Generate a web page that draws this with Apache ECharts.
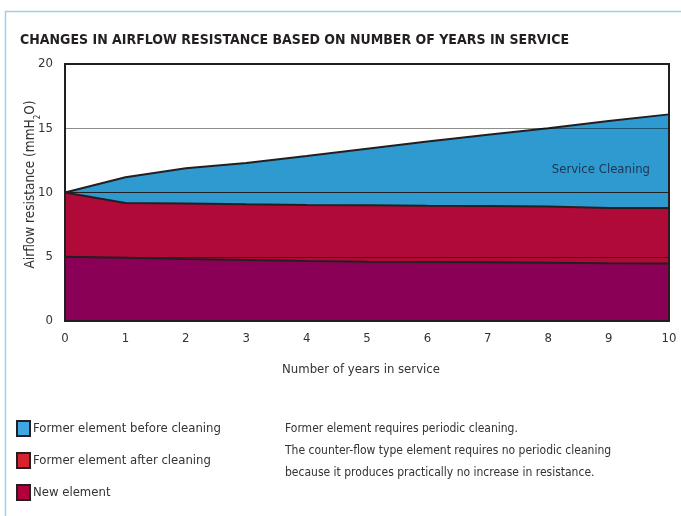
<!DOCTYPE html>
<html>
<head>
<meta charset="utf-8">
<script src="https://cdn.jsdelivr.net/npm/echarts@6/dist/echarts.min.js"></script>
<style>
  html, body { margin: 0; padding: 0; background: #fff; }
  #chart { width: 681px; height: 516px; }
</style>
</head>
<body>
<div id="chart"></div>
<script>
// Years in service (x axis) and resistance values in mmH2O
const years = [0, 1, 2, 3, 4, 5, 6, 7, 8, 9, 10];
const beforeCleaning = [10, 11.18, 11.88, 12.3, 12.84, 13.4, 13.96, 14.5, 15.0, 15.56, 16.08];
const afterCleaning = [10, 9.18, 9.15, 9.08, 9.03, 9.0, 8.97, 8.95, 8.92, 8.8, 8.8];
const newElement = [5.0, 4.92, 4.82, 4.74, 4.66, 4.62, 4.6, 4.57, 4.54, 4.5, 4.48];
const yTicks = [0, 5, 10, 15, 20];
const refLines = [15, 10, 5];

const seriesNames = ['Former element before cleaning', 'Former element after cleaning', 'New element'];
const FONT = '"Liberation Sans Narrow", "DejaVu Sans Condensed", sans-serif';
const TEXT = '#333333';
const EDGE = '#231f20';

const toPairs = arr => arr.map((v, i) => [years[i], v]);

const chart = echarts.init(document.getElementById('chart'), null, { renderer: 'canvas' });

chart.setOption({
  animation: false,
  backgroundColor: '#ffffff',
  textStyle: { fontFamily: FONT },
  title: {
    text: 'CHANGES IN AIRFLOW RESISTANCE BASED ON NUMBER OF YEARS IN SERVICE',
    left: 15, top: 28,
    textStyle: { fontFamily: FONT, fontWeight: 'bold', fontSize: 14, color: '#231f20' }
  },
  grid: {
    left: 65, right: 12, top: 64, bottom: 195,
    show: true, z: 10, backgroundColor: 'transparent',
    borderColor: EDGE, borderWidth: 2
  },
  legend: {
    orient: 'vertical', left: 16, top: 420, padding: 0,
    itemWidth: 13, itemHeight: 15, itemGap: 15,
    icon: 'rect',
    textStyle: { fontFamily: FONT, fontSize: 13, color: TEXT, padding: [0, 0, 0, -2] },
    data: [
      { name: seriesNames[0], itemStyle: { color: '#3fa7e1', borderColor: EDGE, borderWidth: 2 } },
      { name: seriesNames[1], itemStyle: { color: '#d9222f', borderColor: EDGE, borderWidth: 2 } },
      { name: seriesNames[2], itemStyle: { color: '#b4003a', borderColor: EDGE, borderWidth: 2 } }
    ]
  },
  xAxis: {
    type: 'value', min: 0, max: 10, interval: 1,
    name: 'Number of years in service',
    nameLocation: 'middle', nameGap: 42,
    nameTextStyle: { fontFamily: FONT, fontSize: 13, color: TEXT, padding: [0, 12, 0, 0] },
    axisLine: { show: false }, axisTick: { show: false }, splitLine: { show: false },
    axisLabel: { fontFamily: FONT, fontSize: 13, color: TEXT, margin: 11 }
  },
  yAxis: {
    type: 'value', min: 0, max: 20, interval: 5,
    name: 'Airflow resistance (mmH{sub|2}O)',
    nameLocation: 'middle', nameGap: 26, nameRotate: 90,
    nameMoveOverlap: false,
    nameTextStyle: {
      fontFamily: FONT, fontSize: 13.5, color: TEXT, lineHeight: 17,
      padding: [0, 0, 0, 16],
      rich: { sub: { fontFamily: FONT, fontSize: 8, color: TEXT, lineHeight: 8, verticalAlign: 'bottom', padding: [0, 0, -3, 0] } }
    },
    axisLine: { show: false }, axisTick: { show: false }, splitLine: { show: false },
    axisLabel: {
      fontFamily: FONT, fontSize: 13, color: TEXT, margin: 12,
      padding: [11, 0, 0, 0],
      formatter: v => (yTicks.indexOf(v) >= 0 ? String(v) : '')
    }
  },
  series: [
    {
      name: seriesNames[0], type: 'line', data: toPairs(beforeCleaning),
      symbol: 'none', z: 2,
      itemStyle: { color: '#2e9ad0' },
      lineStyle: { color: EDGE, width: 2 },
      areaStyle: { color: '#2e9ad0', opacity: 1, origin: 'start' }
    },
    {
      name: seriesNames[1], type: 'line', data: toPairs(afterCleaning),
      symbol: 'none', z: 3,
      itemStyle: { color: '#b00a38' },
      lineStyle: { color: EDGE, width: 2 },
      areaStyle: { color: '#b00a38', opacity: 1, origin: 'start' }
    },
    {
      name: seriesNames[2], type: 'line', data: toPairs(newElement),
      symbol: 'none', z: 4,
      itemStyle: { color: '#8a0057' },
      lineStyle: { color: EDGE, width: 2 },
      areaStyle: { color: '#8a0057', opacity: 1, origin: 'start' },
      markLine: {
        silent: true, symbol: 'none', z: 6,
        data: [
          { yAxis: refLines[0], lineStyle: { color: 'rgba(0,0,0,0.45)', width: 1.2, type: 'solid' }, label: { show: false } },
          {
            yAxis: refLines[1], lineStyle: { color: EDGE, width: 1.2, type: 'solid' },
            label: {
              show: true, position: 'insideEndTop', formatter: 'Service Cleaning',
              fontFamily: FONT, fontSize: 13, color: '#1e3550', distance: [19, 16]
            }
          },
          { yAxis: refLines[2], lineStyle: { color: EDGE, width: 1.2, type: 'solid' }, label: { show: false } }
        ]
      }
    }
  ],
  graphic: [
    {
      type: 'polyline', silent: true, z: 20,
      shape: { points: [[5.5, 516], [5.5, 11.5], [681, 11.5]] },
      style: { stroke: '#9dd0ee', lineWidth: 1.5, fill: null }
    },
    {
      type: 'text', left: 285, top: 418, silent: true,
      style: {
        text: 'Former element requires periodic cleaning.\nThe counter-flow type element requires no periodic cleaning\nbecause it produces practically no increase in resistance.',
        font: '12px ' + FONT, fill: TEXT, lineHeight: 22
      }
    }
  ]
});
</script>
</body>
</html>
